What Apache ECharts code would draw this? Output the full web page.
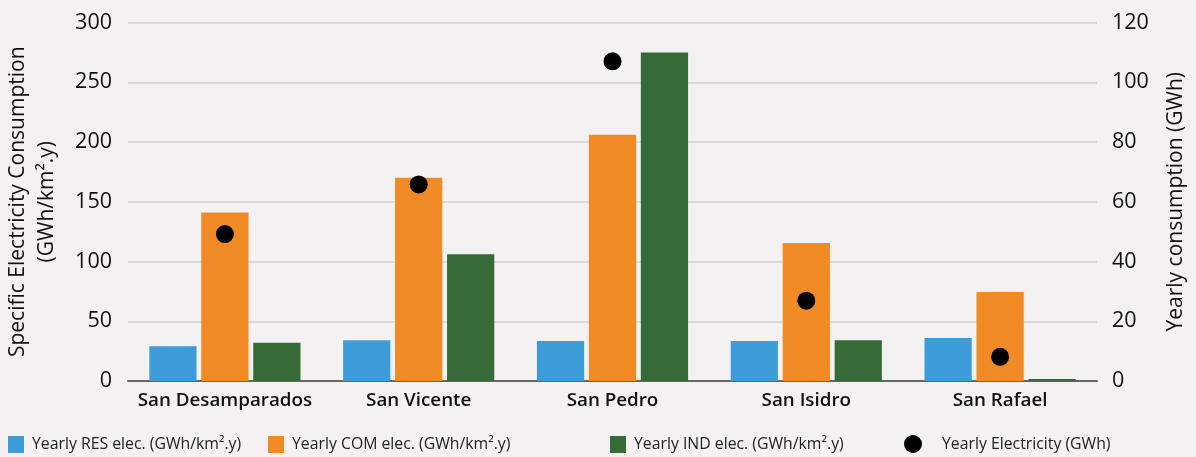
<!DOCTYPE html>
<html><head><meta charset="utf-8">
<script src="https://cdn.jsdelivr.net/npm/echarts@6/dist/echarts.min.js"></script>
<style>html,body{margin:0;padding:0;background:#f3f1f2;}#c{width:1196px;height:457px;}</style>
</head><body><div id="c"></div>
<script>
const categories = ['San Desamparados', 'San Vicente', 'San Pedro', 'San Isidro', 'San Rafael'];
const resValues = [29, 34, 33.5, 33.5, 36];
const comValues = [141, 170, 206, 115.5, 74.5];
const indValues = [32, 106, 275, 34, 1.7];
const yearlyElec = [49.2, 65.8, 107, 26.9, 8.1];
const leftTicks = {min: 0, max: 300, interval: 50};
const rightTicks = {min: 0, max: 120, interval: 20};
const names = ['Yearly RES elec. (GWh/km\u00B2.y)', 'Yearly COM elec. (GWh/km\u00B2.y)', 'Yearly IND elec. (GWh/km\u00B2.y)', 'Yearly Electricity (GWh)'];

const FONT = 'Open Sans';
const chart = echarts.init(document.getElementById('c'), null, {renderer: 'canvas'});
const legendBase = {top: 436, padding: 0, itemWidth: 16, itemHeight: 17, itemGap: 10,
  textStyle: {fontFamily: FONT, fontSize: 15.8, color: '#222', padding: [0, 0, 0, 3]}};
chart.setOption({
  backgroundColor: '#f3f1f2',
  textStyle: {fontFamily: FONT},
  grid: {left: 128, right: 99, top: 22.5, bottom: 76, outerBoundsMode: 'none', containLabel: false},
  legend: [
    Object.assign({}, legendBase, {left: 8, data: [{name: names[0], icon: 'rect'}]}),
    Object.assign({}, legendBase, {left: 268, data: [{name: names[1], icon: 'rect'}]}),
    Object.assign({}, legendBase, {left: 610, data: [{name: names[2], icon: 'rect'}]}),
    Object.assign({}, legendBase, {left: 904, top: 435, itemWidth: 18, itemHeight: 18, textStyle: Object.assign({}, legendBase.textStyle, {padding: [0, 0, 0, 15]}), data: [{name: names[3], icon: 'circle'}]})
  ],
  xAxis: {
    type: 'category', data: categories,
    axisLine: {lineStyle: {color: '#666', width: 2}},
    axisTick: {show: false},
    axisLabel: {interval: 0, fontFamily: FONT, fontSize: 18.8, fontWeight: 600, color: '#111', margin: 10}
  },
  yAxis: [
    {type: 'value', min: leftTicks.min, max: leftTicks.max, interval: leftTicks.interval,
     name: 'Specific Electricity Consumption\n(GWh/km\u00B2.y)', nameLocation: 'middle', nameGap: 66, nameRotate: 90,
     nameTextStyle: {fontFamily: FONT, fontSize: 21, color: '#111', lineHeight: 29},
     axisLabel: {fontFamily: FONT, fontSize: 21.5, color: '#111', margin: 16},
     axisLine: {show: false}, axisTick: {show: false},
     splitLine: {lineStyle: {color: '#d0d0d0', width: 1.5}}},
    {type: 'value', min: rightTicks.min, max: rightTicks.max, interval: rightTicks.interval,
     name: 'Yearly consumption (GWh)', nameLocation: 'middle', nameGap: 69, nameRotate: 90,
     nameTextStyle: {fontFamily: FONT, fontSize: 21, color: '#111'},
     axisLabel: {fontFamily: FONT, fontSize: 21.5, color: '#111', margin: 15},
     axisLine: {show: false}, axisTick: {show: false}, splitLine: {show: false}}
  ],
  series: [
    {name: names[0], type: 'bar', data: resValues, itemStyle: {color: '#3d9dd9'}, barGap: '10%', barCategoryGap: '22%'},
    {name: names[1], type: 'bar', data: comValues, itemStyle: {color: '#f08a24'}},
    {name: names[2], type: 'bar', data: indValues, itemStyle: {color: '#366b37'}},
    {name: names[3], type: 'line', yAxisIndex: 1, data: yearlyElec, symbol: 'circle', symbolSize: 18,
     lineStyle: {width: 0, opacity: 0}, itemStyle: {color: '#000'}, z: 5}
  ]
});
</script></body></html>
